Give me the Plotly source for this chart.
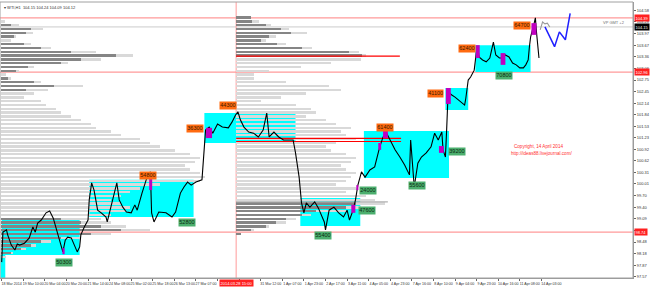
import plotly.graph_objects as go

# ---------------- data ----------------
# price path (bar index, price)
price_bar = [0,1,4,5,8,11,13,15,19,23,26,28,30,33,37,40,43,46,48,51,53,55,58,61,63,65,66,69,72,73,75,77,80,83,87,88,91,94,96,98,101,104,108,111,113,117,121,124,125,127,131,137,142,145,149,152,155,158,162,167,169,170,173,176,180,184,189,192,195,197,199,202,206,210,214,218,221,223,227,231,235,239,243,245,246,248,249,250,252,254,257,261,264,267,269,270,273,277,281,285,288,290,293,295,296,297,300,303,307,311,315,318,321,324,328,332,336,340,341,344,347,350,354,358,361,364,367,368,370,371,372,373,375,378,381,384,386,387,389,391,394,396,397,398,401,404,407,410,412,415,418,420,423,426,429,432,435,437,439,440,441,444,445,446,447,448]
price_val = [97.95,98.74,98.80,98.67,98.40,98.27,98.43,98.40,98.45,98.59,98.88,98.74,98.98,99.06,99.25,99.30,99.11,98.80,98.59,98.22,98.53,98.61,98.59,98.35,98.22,98.35,98.67,98.88,99.06,99.59,100.04,99.85,99.32,99.25,99.14,99.01,99.40,99.77,100.04,99.59,99.40,99.27,99.25,99.46,99.32,99.77,100.17,100.33,99.25,99.01,99.27,99.25,99.14,99.27,99.77,99.93,100.06,99.98,100.06,100.12,100.91,101.43,101.51,101.35,101.59,101.51,101.49,101.64,101.83,101.91,101.70,101.51,101.38,101.35,101.25,101.43,101.88,101.25,101.38,101.25,101.17,101.17,101.17,100.83,100.64,100.19,99.85,99.51,99.25,99.51,99.40,99.54,99.38,99.14,99.01,98.80,99.32,99.40,99.25,99.14,99.32,99.06,99.32,99.59,99.85,99.98,100.33,100.19,100.38,100.46,100.96,101.25,101.35,101.17,100.91,100.72,100.51,100.25,101.17,99.93,100.56,100.72,100.83,100.99,101.35,101.17,101.38,100.91,100.72,101.43,102.22,102.43,102.36,102.30,102.22,102.14,102.09,102.27,102.75,102.83,103.01,103.54,103.62,103.36,103.28,103.23,103.33,103.75,103.41,103.33,103.33,103.41,103.36,103.20,103.15,103.07,103.07,103.15,103.28,103.62,103.88,104.25,104.39,103.99,103.59,103.33]

tail_bar = [449, 451, 453, 455, 457]
tail_val = [104.07, 104.28, 104.23, 104.25, 104.15]

fc_bar = [453, 461, 465, 470, 474]
fc_val = [104.15, 103.63, 104.02, 103.81, 104.51]

# volume profile price levels
prof_levels = [104.4,104.3,104.2,104.1,104.0,103.9,103.8,103.7,103.6,103.5,103.4,103.3,103.2,103.1,103.0,102.9,102.8,102.7,102.6,102.5,102.4,102.3,102.2,102.1,102.0,101.9,101.8,101.7,101.6,101.5,101.4,101.3,101.2,101.1,101.0,100.9,100.8,100.7,100.6,100.5,100.4,100.3,100.2,100.1,100.0,99.9,99.8,99.7,99.6,99.5,99.4,99.3,99.2,99.1,99.0,98.9,98.8,98.7,98.6,98.5,98.4,98.3,98.2,98.1,98.0]
prof1_total = [0,4,18,42,32,15,10,30,50,95,133,100,67,33,18,5,10,40,82,47,33,23,40,45,55,60,70,80,90,95,110,120,140,150,160,175,190,200,195,185,190,200,205,200,160,140,130,120,110,120,130,125,110,100,110,125,150,110,80,50,35,25,12,5,0]
prof1_dark = [0,0,10,30,25,13,0,23,40,70,115,80,60,27,15,0,7,33,53,25,0,0,0,0,0,0,0,0,0,0,0,0,0,0,0,0,0,0,0,0,0,0,0,0,0,0,0,0,0,0,0,0,0,60,80,100,120,90,60,40,30,20,10,0,0]
prof2_total = [15,23,35,53,71,40,30,50,76,123,130,125,95,65,33,18,18,50,93,105,70,45,25,60,75,80,70,90,100,115,105,110,120,100,90,95,110,120,115,105,110,120,115,110,100,120,110,130,140,150,125,110,75,60,50,33,18,5,0,0,0,0,0,0,0]
prof2_dark = [15,16,30,45,55,33,25,41,66,113,126,0,0,0,0,0,0,0,0,0,0,0,0,0,0,0,0,0,0,0,0,0,0,0,0,0,0,0,0,0,0,0,0,0,0,0,0,0,0,120,110,80,66,50,40,30,15,5,0,0,0,0,0,0,0]
prof1_start = -0.5
prof2_start = 195.5
VOL_SCALE = 1 / 1.205

# profile marker lines (price, bar_from, bar_to, colour)
pline_price = [103.38, 101.21, 101.13, 99.54]
pline_from = [195.5, 195.5, 195.5, 195.5]
pline_to = [332, 333, 333, 322]
pline_color = ["#ff0000", "#ff0000", "#ff0000", "#b0b0b0"]

# cyan zones
box_b0 = [-1, 0, 73, 169, 249, 302, 370, 395]
box_b1 = [3, 65, 160, 245, 299, 373, 389, 441]
box_lo = [97.48, 98.14, 99.14, 101.09, 98.90, 100.17, 101.96, 102.96]
box_hi = [98.14, 99.11, 100.12, 101.88, 99.64, 101.41, 102.54, 103.67]

# magenta POC marks
mag_b0 = [50.6, 123, 170.4, 291.5, 295.7, 314, 318, 364.6, 370.4, 395.3, 416, 441.7]
mag_b1 = [52.5, 125.5, 175.4, 294.9, 297.4, 316.4, 322, 368.7, 374.5, 398.6, 420, 445.9]
mag_lo = [98.16, 99.85, 101.22, 99.25, 99.85, 100.91, 101.22, 100.83, 102.12, 103.33, 103.15, 103.94]
mag_hi = [98.32, 100.17, 101.49, 99.46, 99.98, 101.09, 101.43, 101.01, 102.54, 103.67, 103.46, 104.25]

# swing labels
hi_text = ["54800", "36300", "44300", "61400", "41100", "62400", "64700"]
hi_bar = [121.8, 161.4, 188.6, 319.3, 361.7, 387.8, 434]
hi_val = [100.23, 101.47, 102.08, 101.50, 102.39, 103.58, 104.20]
lo_text = ["50300", "52800", "55400", "47600", "24000", "55600", "39200", "70800"]
lo_bar = [51.7, 154.2, 268.3, 304.4, 305.2, 346, 379.5, 419]
lo_val = [97.93, 99.0, 98.64, 99.31, 99.84, 99.98, 100.87, 102.88]

# horizontal levels
level_val = [104.39, 102.96, 98.74]
bid_val = 104.15
cursor_bar = 195.5

ytick_vals = [104.58,104.28,103.97,103.67,103.36,103.06,102.75,102.45,102.14,101.84,101.53,101.23,100.92,100.62,100.31,100.01,99.70,99.40,99.09,98.79,98.48,98.18,97.87,97.57]
ytick_hidden = [98.79]  # covered by the level box in the reference
xtick_bars = [0,18,36,54,72,90,108,126,144,162,180,198,216,234,252,270,288,306,324,342,360,378,396,414,432,450]
# labels under the cursor time box are hidden in the reference
xtick_text = ["18 Mar 2014","19 Mar 10:00","20 Mar 04:00","20 Mar 20:00","21 Mar 14:00","24 Mar 08:00","25 Mar 02:00","25 Mar 18:00","26 Mar 13:00","27 Mar 07:00","","","31 Mar 12:00","1 Apr 07:00","1 Apr 23:00","2 Apr 17:00","3 Apr 11:00","4 Apr 05:00","4 Apr 23:00","7 Apr 16:00","8 Apr 10:00","9 Apr 04:00","9 Apr 23:00","10 Apr 16:00","11 Apr 08:00","14 Apr 03:00"]

# ---------------- figure ----------------
fig = go.Figure()

LIGHT = "#d9d9d9"
DARK = "#858585"
for start, tot, dark in [(prof1_start, prof1_total, prof1_dark), (prof2_start, prof2_total, prof2_dark)]:
    fig.add_trace(go.Bar(y=prof_levels, x=[v * VOL_SCALE for v in tot], base=start,
                         orientation="h", width=0.05, marker=dict(color=LIGHT, line=dict(width=0)),
                         hoverinfo="skip"))
    fig.add_trace(go.Bar(y=prof_levels, x=[v * VOL_SCALE for v in dark], base=start,
                         orientation="h", width=0.05, marker=dict(color=DARK, line=dict(width=0)),
                         hoverinfo="skip"))

for p, a, b, c in zip(pline_price, pline_from, pline_to, pline_color):
    fig.add_trace(go.Scatter(x=[a, b], y=[p, p], mode="lines", line=dict(color=c, width=1.2), hoverinfo="skip"))

fig.add_trace(go.Scatter(x=price_bar, y=price_val, mode="lines", line=dict(color="#000000", width=1.1)))
fig.add_trace(go.Scatter(x=tail_bar, y=tail_val, mode="lines", line=dict(color="#9a9a9a", width=1.1)))
fig.add_trace(go.Scatter(x=fc_bar, y=fc_val, mode="lines", line=dict(color="#1f1fff", width=1.5)))

shapes = []
for b0, b1, lo, hi in zip(box_b0, box_b1, box_lo, box_hi):
    shapes.append(dict(type="rect", xref="x", yref="y", x0=b0, x1=b1, y0=lo, y1=hi,
                       fillcolor="#00ffff", line=dict(width=0), layer="below"))
for b0, b1, lo, hi in zip(mag_b0, mag_b1, mag_lo, mag_hi):
    shapes.append(dict(type="rect", xref="x", yref="y", x0=b0, x1=b1, y0=lo, y1=hi,
                       fillcolor="#c000c0", line=dict(width=0), layer="above"))
for lv in level_val:
    shapes.append(dict(type="line", xref="paper", yref="y", x0=0, x1=1, y0=lv, y1=lv,
                       line=dict(color="#ff9a9a", width=1.3), layer="below"))
shapes.append(dict(type="line", xref="paper", yref="y", x0=0, x1=1, y0=bid_val, y1=bid_val,
                   line=dict(color="#cccccc", width=1), layer="below"))
shapes.append(dict(type="line", xref="x", yref="paper", x0=cursor_bar, x1=cursor_bar, y0=0, y1=1,
                   line=dict(color="#ff9a9a", width=1), layer="below"))
shapes.append(dict(type="rect", xref="paper", yref="paper", x0=0, x1=1, y0=0, y1=1,
                   line=dict(color="#a0a0a0", width=1), layer="above"))

ann = []
for t, b, v in zip(hi_text, hi_bar, hi_val):
    ann.append(dict(x=b, y=v, xref="x", yref="y", text=t, showarrow=False,
                    font=dict(size=5.5, color="#3a1a00", family="Arial"), bgcolor="#ff6a10", borderpad=0.3))
for t, b, v in zip(lo_text, lo_bar, lo_val):
    ann.append(dict(x=b, y=v, xref="x", yref="y", text=t, showarrow=False,
                    font=dict(size=5.5, color="#0a2a10", family="Arial"), bgcolor="#4caf6e", borderpad=0.3))
for lv in level_val:
    ann.append(dict(x=1, y=lv, xref="paper", yref="y", xanchor="left", text=f"{lv:.2f}", showarrow=False,
                    font=dict(size=4, color="white", family="Arial"), bgcolor="#ff2020", borderpad=0.5, xshift=1))
ann.append(dict(x=1, y=bid_val, xref="paper", yref="y", xanchor="left", text=f"{bid_val:.2f}", showarrow=False,
                font=dict(size=4, color="white", family="Arial"), bgcolor="#000000", borderpad=0.5, xshift=1))
ann.append(dict(x=cursor_bar, y=0, xref="x", yref="paper", yanchor="top", text="2014.03.28 15:00", showarrow=False,
                font=dict(size=4, color="white", family="Arial"), bgcolor="#ff2020", borderpad=0.5, yshift=-1))
ann.append(dict(x=0.99, y=bid_val, xref="paper", yref="y", xanchor="right", yanchor="bottom", text="VP GMT +2",
                showarrow=False, font=dict(size=4, color="#707070", family="Arial")))
ann.append(dict(x=448, y=100.99, xref="x", yref="y", text="Copyright, 14 April 2014", showarrow=False,
                font=dict(size=4.6, color="#ff3030", family="Arial")))
ann.append(dict(x=450, y=100.82, xref="x", yref="y", text="http://ideas88.livejournal.com/", showarrow=False,
                font=dict(size=4.6, color="#ff3030", family="Arial")))
ann.append(dict(x=0.003, y=0.995, xref="paper", yref="paper", xanchor="left", yanchor="top",
                text="▾ WTI,H1  104.15 104.24 104.09 104.12", showarrow=False,
                font=dict(size=4, color="#333333", family="Arial")))

fig.update_layout(
    width=650, height=287, margin=dict(l=0, r=14, t=2, b=9),
    paper_bgcolor="white", plot_bgcolor="white", showlegend=False,
    barmode="overlay", bargap=0, shapes=shapes, annotations=ann,
    xaxis=dict(range=[-1.41, 526.4], tickvals=xtick_bars, ticktext=xtick_text, showgrid=False, zeroline=False,
               ticks="outside", ticklen=2, tickcolor="#666", tickangle=0,
               tickfont=dict(size=3.6, color="#333", family="Arial"),
               showline=True, linecolor="#999", ticklabelshift=10, ticklabelstandoff=0),
    yaxis=dict(range=[97.532, 104.807], side="right", tickvals=ytick_vals,
               ticktext=["" if v in ytick_hidden else f"{v:.2f}" for v in ytick_vals],
               showgrid=False, zeroline=False,
               ticks="outside", ticklen=2, tickcolor="#666", tickfont=dict(size=4, color="#333", family="Arial"),
               showline=True, linecolor="#999"),
)

fig.write_html("out.html")
